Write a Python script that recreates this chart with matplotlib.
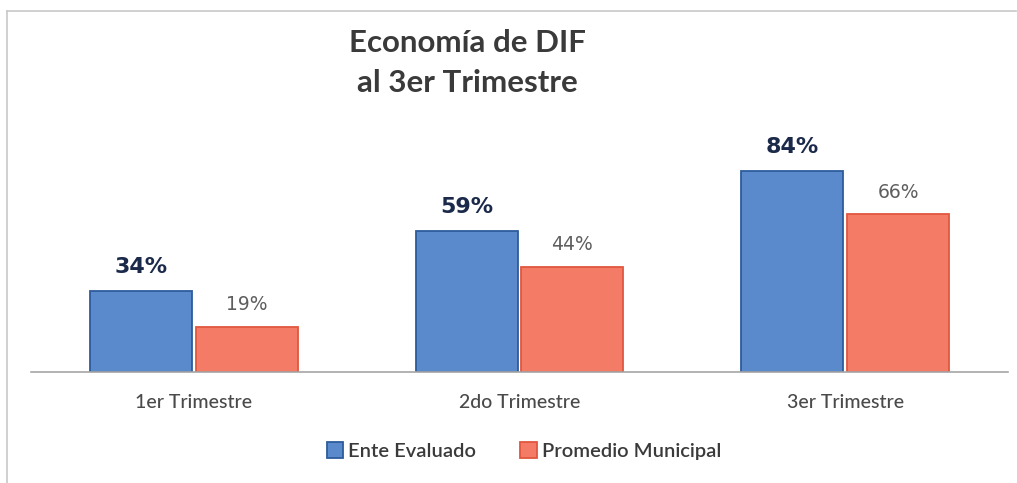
import matplotlib
matplotlib.use("Agg")
import matplotlib.pyplot as plt
import numpy as np
from matplotlib.patches import Patch
from matplotlib.lines import Line2D

categories = ["1er Trimestre", "2do Trimestre", "3er Trimestre"]
ente = [34, 59, 84]
promedio = [19, 44, 66]
series_names = ["Ente Evaluado", "Promedio Municipal"]
title = "Economía de DIF\nal 3er Trimestre"

blue_face = "#5A8ACB"
blue_edge = "#2C5C9C"
red_face = "#F47B66"
red_edge = "#E1573E"

fig = plt.figure(figsize=(10.17, 4.83), dpi=100)
fig.patch.set_facecolor("white")
W, H = 1017, 483
ax = fig.add_axes([31 / W, (H - 372) / H, (1008 - 31) / W, (372 - 100) / H])

x = np.arange(len(categories))
bw = 0.313
gap = 0.012
ax.bar(x - bw / 2 - gap / 2, ente, width=bw, color=blue_face, edgecolor=blue_edge, linewidth=1.3)
ax.bar(x + bw / 2 + gap / 2, promedio, width=bw, color=red_face, edgecolor=red_edge, linewidth=1.3)

for i in range(len(categories)):
    ax.annotate(f"{ente[i]}%", (x[i] - bw / 2 - gap / 2, ente[i]), xytext=(0, 10),
                textcoords="offset points", ha="center", va="bottom",
                fontsize=16, fontweight="heavy", color="#1B2A4A", family="DejaVu Sans")
    ax.annotate(f"{promedio[i]}%", (x[i] + bw / 2 + gap / 2, promedio[i]), xytext=(0, 9),
                textcoords="offset points", ha="center", va="bottom",
                fontsize=13.5, color="#5E5E5E", family="DejaVu Sans")

ax.set_xlim(-0.5, 2.5)
ax.set_ylim(0, 113.8)
for s in ["top", "right", "left"]:
    ax.spines[s].set_visible(False)
ax.spines["bottom"].set_color("#A6A6A6")
ax.spines["bottom"].set_linewidth(1.2)
ax.set_yticks([])
ax.set_xticks(x)
ax.set_xticklabels(categories, fontsize=14, color="#4A4A4A", family="Lato", fontweight="medium")
ax.tick_params(axis="x", length=0, pad=16)
ax.patch.set_alpha(0)

fig.text(467 / W, 1 - 63 / H, title, ha="center", va="center", fontsize=22.5,
         fontweight="bold", color="#3A3A3A", family="Lato", linespacing=1.55)

handles = [Patch(facecolor=blue_face, edgecolor=blue_edge, linewidth=1.3),
           Patch(facecolor=red_face, edgecolor=red_edge, linewidth=1.3)]
fig.legend(handles, series_names, loc="center", bbox_to_anchor=(524 / W, 1 - 451 / H),
           ncol=2, frameon=False, prop={"family": "Lato", "size": 14.5, "weight": "semibold"},
           handlelength=0.8, handleheight=0.8, handletextpad=0.25, columnspacing=2.2,
           labelcolor="#3A3A3A")

fig.add_artist(Line2D([7 / W, 7 / W], [0, 1 - 11 / H], transform=fig.transFigure,
                      color="#C8C8C8", linewidth=1.2))
fig.add_artist(Line2D([7 / W, 1 - 1 / W], [1 - 11 / H, 1 - 11 / H], transform=fig.transFigure,
                      color="#C8C8C8", linewidth=1.2))

fig.savefig("out.png", dpi=100)
